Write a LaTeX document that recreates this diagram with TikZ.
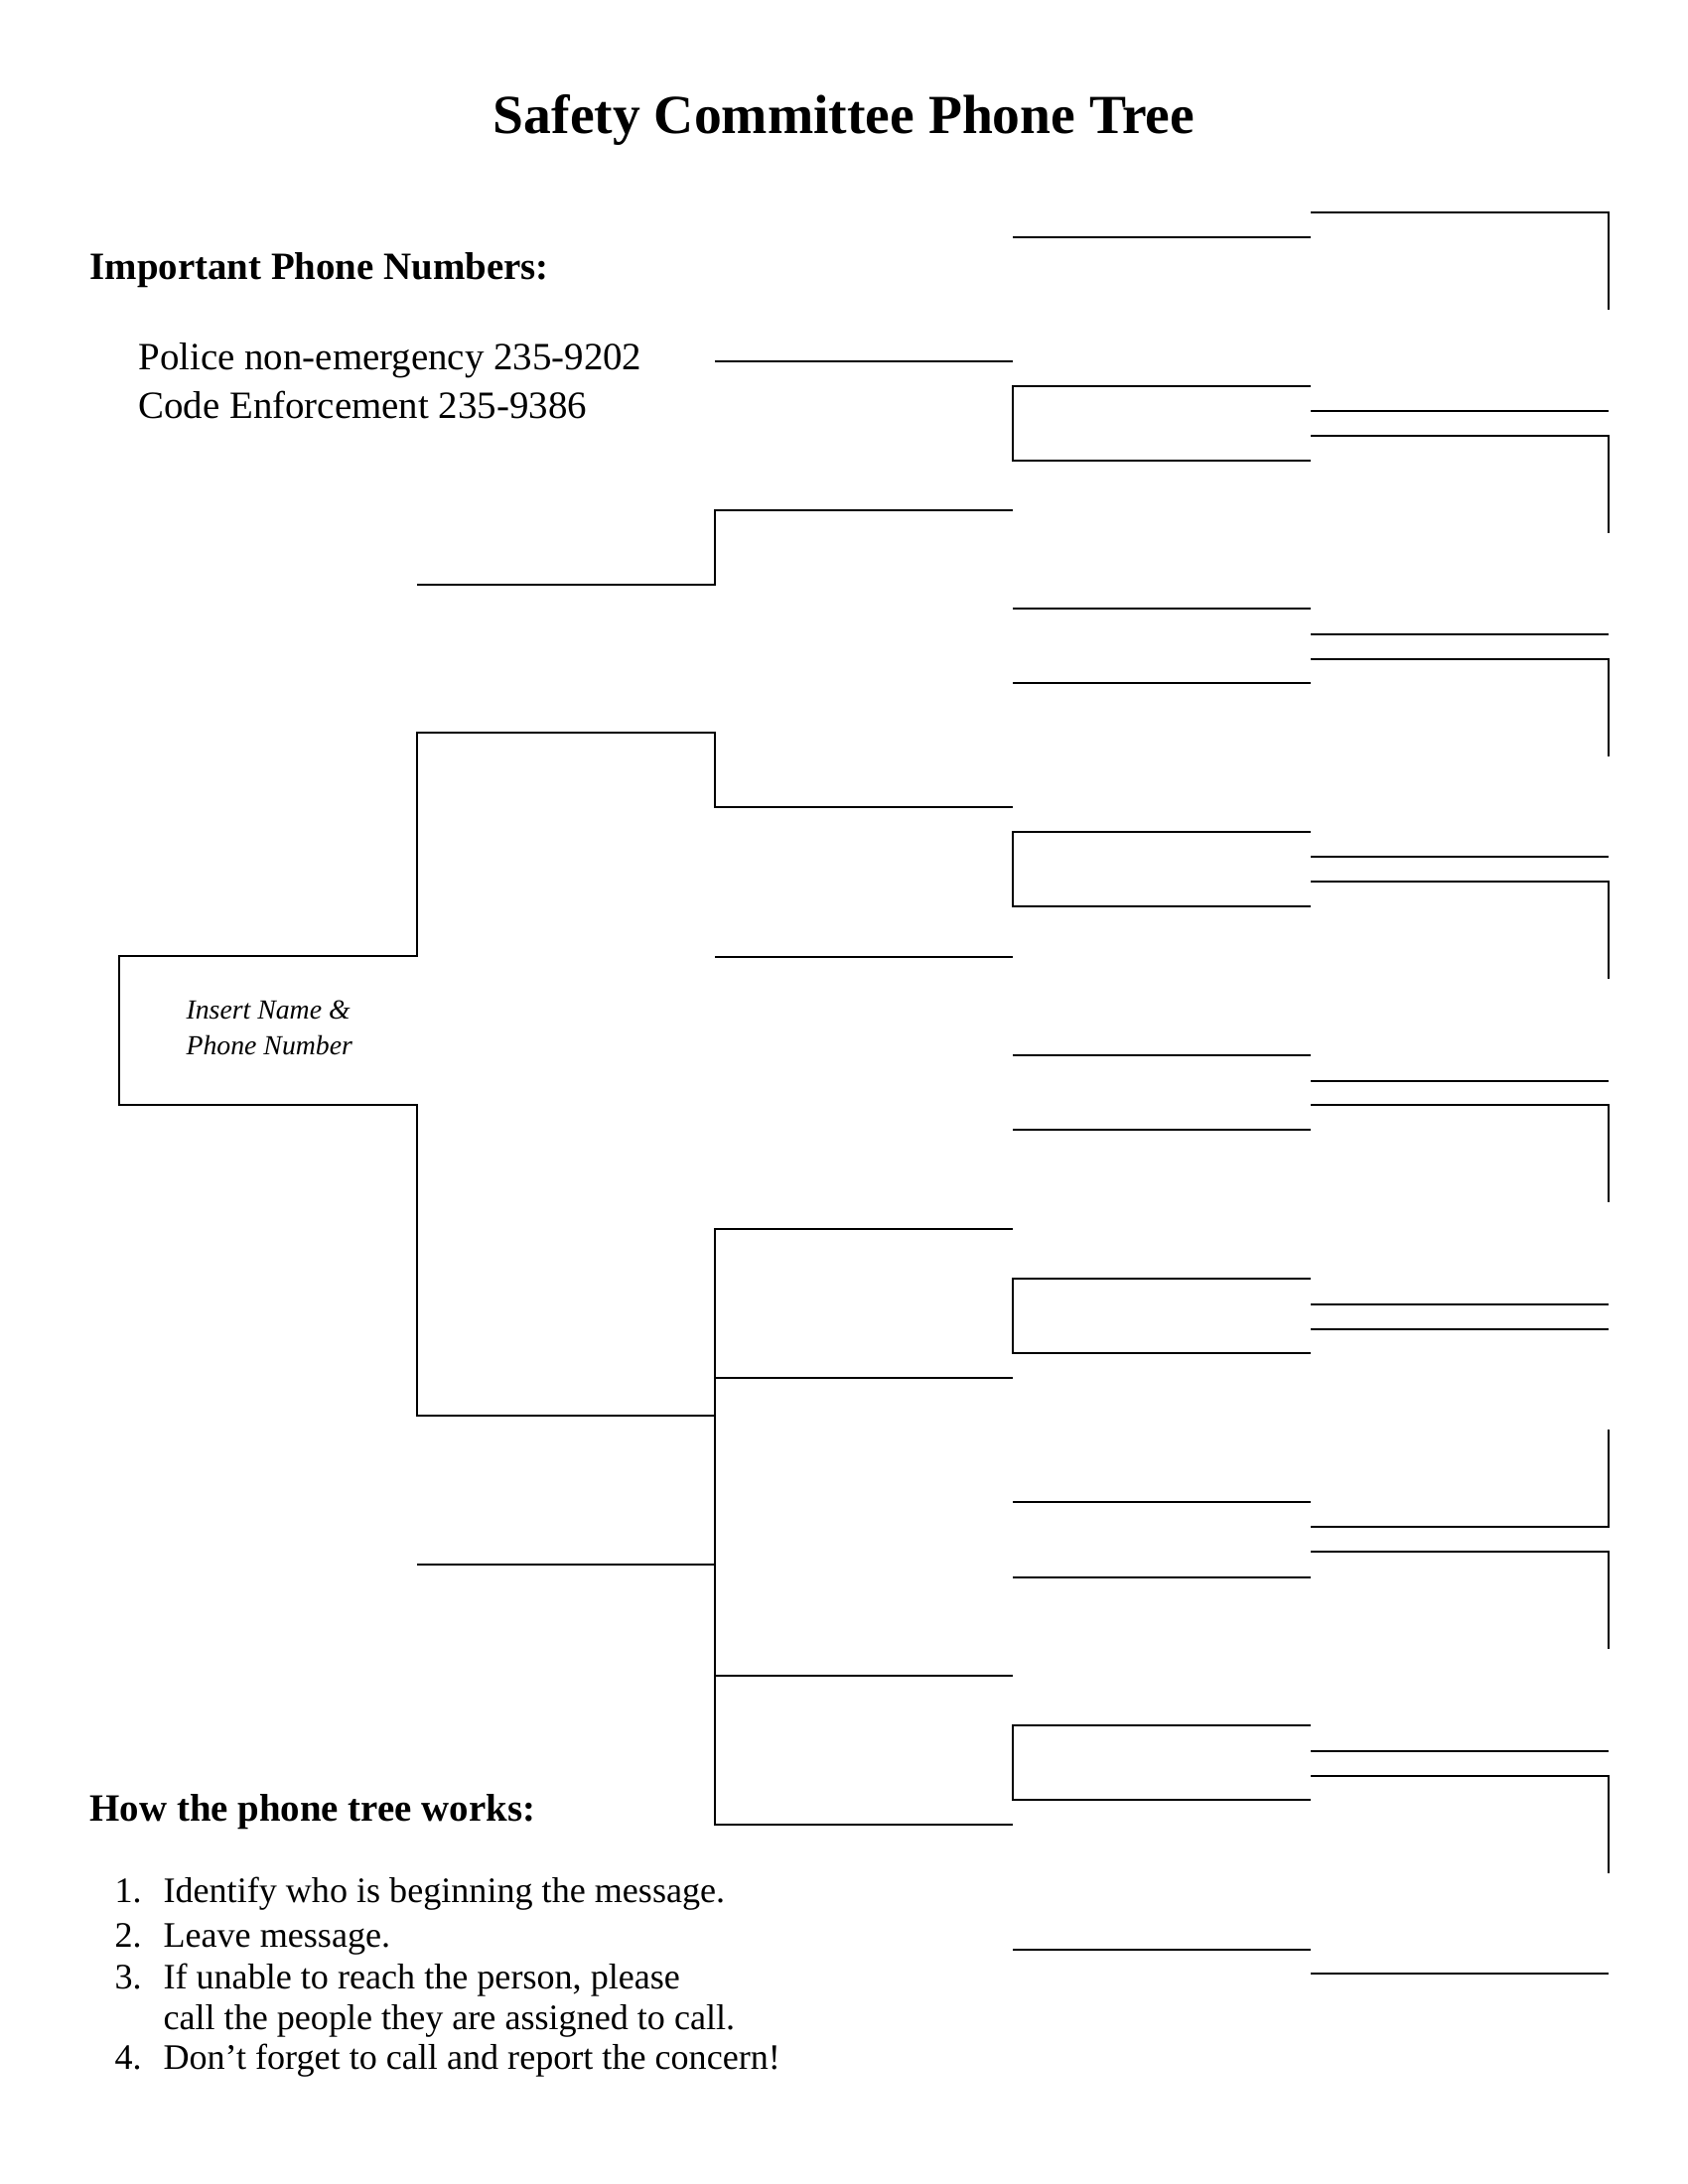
\documentclass[tikz,border=0pt]{standalone}
\usepackage{fontspec}
\setmainfont{Liberation Serif}
\usetikzlibrary{positioning}

\begin{document}
\begin{tikzpicture}[
  x=0.36pt, y=-0.36pt,
  slot/.style={line width=0.75pt},
  plain/.style={anchor=base west, inner sep=0pt, font=\fontsize{14}{17}\selectfont},
  steptext/.style={plain, font=\fontsize{13}{16}\selectfont},
  headtext/.style={plain, font=\fontsize{14}{17}\selectfont\bfseries},
  hint/.style={anchor=base west, inner sep=0pt, font=\fontsize{10}{12}\selectfont\itshape}
]
\useasboundingbox (0,0) rectangle (1700,2200);

% texts
\node[anchor=base, inner sep=0pt, font=\fontsize{20}{24}\selectfont\bfseries] (title) at (850,135) {Safety Committee Phone Tree};
\node[headtext] (numbers) at (90,281) {Important Phone Numbers:};
\node[plain] (police) at (139,372) {Police non-emergency 235-9202};
\node[plain] (code) at (139,421) {Code Enforcement 235-9386};
\node[hint] (caller) at (187,1026) {Insert Name \&};
\node[hint] (callerphone) at (187,1062) {Phone Number};
\node[headtext] (how) at (90,1834) {How the phone tree works:};
\foreach \n/\y/\txt in {1./1916/Identify who is beginning the message.,
                        2./1961/Leave message.,
                        3./2003/{If unable to reach the person, please},
                         /2044/call the people they are assigned to call.,
                        4./2084/Don’t forget to call and report the concern!}
{
  \node[steptext] (num\y) at (115,\y) {\n};
  \node[steptext] (step\y) at (164,\y) {\txt};
}

% first callers
\draw[slot] (1020,813) -- (720,813) -- (720,738) -- (420,738) -- (420,963)
  -- (120,963) -- (120,1113) -- (420,1113) -- (420,1426) -- (720,1426);
\draw[slot] (420,589) -- (720,589) -- (720,514) -- (1020,514);
\draw[slot] (420,1576) -- (720,1576);
\draw[slot] (1020,1238) -- (720,1238) -- (720,1838) -- (1020,1838);
\foreach \y in {364,964,1388,1688}
  \draw[slot] (720,\y) -- (1020,\y);

% second callers
\foreach \y in {239,613,688,1063,1138,1513,1589,1964}
  \draw[slot] (1020,\y) -- (1320,\y);
\foreach \y in {389,838,1288,1738}
  \draw[slot] (1320,\y) -- (1020,\y) -- (1020,\y+75) -- (1320,\y+75);

% last callers
\foreach \y in {414,639,863,1089,1314,1339,1764,1988}
  \draw[slot] (1320,\y) -- (1620,\y);
\foreach \y in {214,439,664,888,1113,1563,1789}
  \draw[slot] (1320,\y) -- (1620,\y) -- (1620,\y+98);
\draw[slot] (1620,1440) -- (1620,1538) -- (1320,1538);
\end{tikzpicture}
\end{document}
